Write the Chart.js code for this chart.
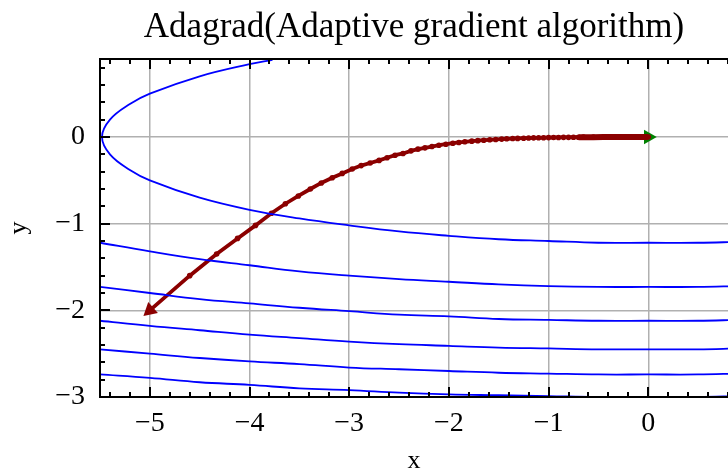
<!DOCTYPE html>
<html lang="en">
<head>
    <meta charset="UTF-8">
    <title>Adagrad</title>
    <script src="https://cdn.jsdelivr.net/npm/chart.js"></script>
    <style>
        html, body {
            margin: 0;
            padding: 0;
            background: #ffffff;
        }

        #wrap {
            width: 728px;
            height: 473px;
        }
    </style>
</head>
<body>
    <div id="wrap">
        <canvas id="adagradChart" width="728" height="473"></canvas>
    </div>
    <script>
        // Contour levels of f(x, y) = 0.1 x^2 + 2 y^2, sampled at these x positions
        var levelX = [-5.5, -5, -4.5, -4, -3.5, -3, -2.5, -2, -1.5, -1, -0.5, 0, 0.5, 0.9];
        var level6 = [-1.22, -1.32, -1.41, -1.48, -1.55, -1.60, -1.64, -1.67, -1.70, -1.72, -1.73, -1.73, -1.73, -1.72];
        var level9 = [-1.73, -1.80, -1.87, -1.92, -1.97, -2.01, -2.05, -2.07, -2.10, -2.11, -2.12, -2.12, -2.12, -2.11];
        var level12 = [-2.12, -2.18, -2.23, -2.28, -2.32, -2.36, -2.39, -2.41, -2.43, -2.44, -2.45, -2.45, -2.45, -2.44];
        var level15 = [-2.45, -2.50, -2.55, -2.59, -2.62, -2.66, -2.68, -2.70, -2.72, -2.73, -2.74, -2.74, -2.74, -2.73];
        var level18 = [-2.74, -2.78, -2.83, -2.86, -2.90, -2.92, -2.95, -2.97, -2.98, -2.99, -3.00, -3.00, -3.00, -2.99];

        // innermost level (3) wraps round the left edge, so it has its own x list
        var level3X = [-3.77, -4, -4.5, -5, -5.2, -5.4, -5.48, -5.4, -5.2, -5, -4.5, -4, -3.5, -3, -2.5, -2, -1.5, -1, -0.5, 0, 0.5, 0.9];
        var level3Y = [0.89, 0.84, 0.70, 0.50, 0.38, 0.20, 0, -0.20, -0.38, -0.50, -0.70, -0.84, -0.94, -1.02, -1.09, -1.14, -1.18, -1.20, -1.22, -1.22, -1.22, -1.21];

        // optimizer trajectory
        var pathX = [-5, -4.6, -4.33, -4.12, -3.94, -3.78, -3.64, -3.51, -3.39, -3.28, -3.17, -3.07, -2.97, -2.88, -2.79,
            -2.70, -2.62, -2.54, -2.46, -2.38, -2.31, -2.24, -2.17, -2.10, -2.03, -1.96, -1.90, -1.84, -1.77, -1.71,
            -1.65, -1.59, -1.53, -1.47, -1.42, -1.36, -1.31, -1.25, -1.20, -1.15, -1.10, -1.05, -1.00, -0.95, -0.90,
            -0.85, -0.80, -0.75, -0.70, -0.65, -0.55, -0.45, -0.35, -0.25, -0.15, -0.05, 0];
        var pathY = [-2, -1.6, -1.35, -1.17, -1.02, -0.88, -0.77, -0.68, -0.60, -0.53, -0.47, -0.42, -0.37, -0.33, -0.30,
            -0.27, -0.24, -0.21, -0.19, -0.16, -0.14, -0.125, -0.11, -0.095, -0.083, -0.072, -0.063, -0.055, -0.048, -0.042,
            -0.037, -0.032, -0.028, -0.024, -0.021, -0.018, -0.016, -0.014, -0.012, -0.010, -0.009, -0.008, -0.007, -0.006, -0.005,
            -0.004, -0.004, -0.003, -0.003, -0.002, -0.002, -0.001, -0.001, -0.001, 0, 0, 0];

        var xTickLabels = ['\u22125', '\u22124', '\u22123', '\u22122', '\u22121', '0'];
        var yTickLabels = ['\u22123', '\u22122', '\u22121', '0'];

        var SERIF = "'Liberation Serif', 'Times New Roman', serif";
        var DARKRED = '#8b0000';

        function toPoints(xs, ys) {
            return xs.map(function (v, i) { return {x: v, y: ys[i]}; });
        }

        function contour(xs, ys) {
            return {
                data: toPoints(xs, ys),
                showLine: true,
                borderColor: '#0000ff',
                borderWidth: 1.8,
                pointRadius: 0,
                tension: 0.4,
                clip: 0
            };
        }

        var datasets = [
            contour(level3X, level3Y),
            contour(levelX, level6),
            contour(levelX, level9),
            contour(levelX, level12),
            contour(levelX, level15),
            contour(levelX, level18),
            {
                data: toPoints(pathX, pathY),
                showLine: true,
                borderColor: DARKRED,
                borderWidth: 3.8,
                pointRadius: 2.8,
                pointBackgroundColor: DARKRED,
                pointBorderWidth: 0,
                segment: {
                    // the last stretch is packed with steps, so it reads as a thicker band
                    borderWidth: function (c) { return c.p0.parsed.x >= -0.7 ? 6 : 3.8; }
                }
            },
            {
                // start marker
                data: [{x: pathX[0], y: pathY[0]}],
                pointStyle: 'triangle',
                rotation: 229,
                pointRadius: 8.5,
                pointBackgroundColor: DARKRED,
                pointBorderWidth: 0
            },
            {
                // end marker
                data: [{x: pathX[pathX.length - 1], y: pathY[pathY.length - 1]}],
                pointStyle: 'triangle',
                rotation: 90,
                pointRadius: 8.5,
                pointBackgroundColor: '#008000',
                pointBorderWidth: 0
            }
        ];

        // black spines (top, left, bottom) with inward major and minor ticks
        var spines = {
            id: 'spines',
            afterDatasetsDraw: function (chart) {
                var ctx = chart.ctx;
                var a = chart.chartArea;
                var xs = chart.scales.x;
                var ys = chart.scales.y;
                ctx.save();
                ctx.strokeStyle = '#000000';
                ctx.lineWidth = 2;
                ctx.lineCap = 'square';
                ctx.beginPath();
                ctx.moveTo(a.right + 2, a.top);
                ctx.lineTo(a.left, a.top);
                ctx.lineTo(a.left, a.bottom);
                ctx.lineTo(a.right + 2, a.bottom);
                ctx.stroke();

                ctx.lineCap = 'butt';
                ctx.beginPath();
                var k, px, len;
                for (k = Math.ceil(xs.min / 0.2 - 1e-9); k * 0.2 <= xs.max + 1e-9; k++) {
                    px = Math.round(xs.getPixelForValue(k * 0.2));
                    len = (k % 5 === 0) ? 10 : 5;
                    ctx.moveTo(px, a.bottom);
                    ctx.lineTo(px, a.bottom - len);
                    ctx.moveTo(px, a.top);
                    ctx.lineTo(px, a.top + len);
                }
                for (k = Math.ceil(ys.min / 0.2 - 1e-9); k * 0.2 <= ys.max + 1e-9; k++) {
                    px = Math.round(ys.getPixelForValue(k * 0.2));
                    len = (k % 5 === 0) ? 10 : 5;
                    ctx.moveTo(a.left, px);
                    ctx.lineTo(a.left + len, px);
                }
                ctx.stroke();
                ctx.restore();
            }
        };

        var ctx = document.getElementById('adagradChart').getContext('2d');
        var chart = new Chart(ctx, {
            type: 'scatter',
            data: {datasets: datasets},
            plugins: [spines],
            options: {
                responsive: false,
                animation: false,
                layout: {padding: 0, autoPadding: false},
                plugins: {
                    legend: {display: false},
                    tooltip: {enabled: false},
                    title: {
                        display: true,
                        text: 'Adagrad(Adaptive gradient algorithm)',
                        fullSize: false,
                        color: '#000000',
                        font: {family: SERIF, size: 35, weight: 'normal'},
                        padding: {top: 7, bottom: 10}
                    }
                },
                scales: {
                    x: {
                        type: 'linear',
                        min: -5.5,
                        max: 0.8,
                        afterFit: function (s) { s.height = 76; },
                        border: {display: false},
                        grid: {color: '#b0b0b0', lineWidth: 1.5, drawTicks: false},
                        ticks: {
                            stepSize: 1,
                            includeBounds: false,
                            padding: 10,
                            color: '#000000',
                            font: {family: SERIF, size: 28},
                            callback: function (v, i) { return xTickLabels[i]; }
                        },
                        title: {
                            display: true,
                            text: 'x',
                            color: '#000000',
                            font: {family: SERIF, size: 26},
                            padding: {top: 0, bottom: -4}
                        }
                    },
                    y: {
                        type: 'linear',
                        min: -3,
                        max: 0.9,
                        afterFit: function (s) { s.width = 100; },
                        border: {display: false},
                        grid: {color: '#b0b0b0', lineWidth: 1.5, drawTicks: false},
                        ticks: {
                            stepSize: 1,
                            includeBounds: false,
                            padding: 15,
                            color: '#000000',
                            font: {family: SERIF, size: 28},
                            callback: function (v, i) { return yTickLabels[i]; }
                        },
                        title: {
                            display: true,
                            text: 'y',
                            color: '#000000',
                            font: {family: SERIF, size: 26},
                            padding: {bottom: 4}
                        }
                    }
                }
            }
        });
    </script>
</body>
</html>
